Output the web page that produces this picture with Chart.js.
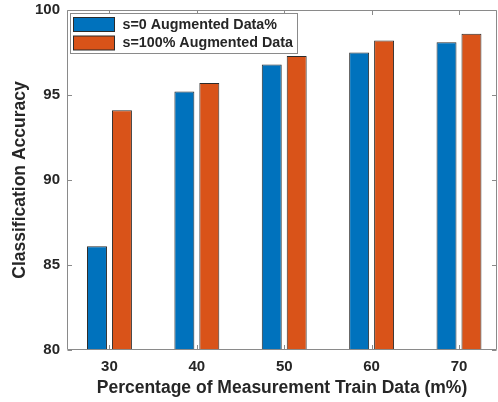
<!DOCTYPE html>
<html lang="en">
<head>
<meta charset="UTF-8">
<title>Classification Accuracy</title>
<script src="https://cdn.jsdelivr.net/npm/chart.js"></script>
<style>
  html, body { margin: 0; padding: 0; background: #fff; }
  #wrap { width: 498px; height: 402px; }
</style>
</head>
<body>
<div id="wrap"><canvas id="accChart" width="498" height="402"></canvas></div>
<script>
  // values
  const trainPct = [30, 40, 50, 60, 70];
  const accNoAug = [86.1, 95.2, 96.8, 97.5, 98.1];
  const accFullAug = [94.1, 95.7, 97.3, 98.2, 98.6];
  const yTicks = [80, 85, 90, 95, 100];
  const seriesNames = ['s=0 Augmented Data%', 's=100% Augmented Data'];
  const seriesColors = ['#0072BD', '#D95319'];

  const FONT = "'Liberation Sans', Arial, sans-serif";
  const TEXT = '#262626';
  const AXIS = '#8a8a8a';

  // MATLAB style box with inward ticks
  const boxPlugin = {
    id: 'box',
    afterDatasetsDraw(chart) {
      const { ctx, chartArea: a, scales: { x, y } } = chart;
      ctx.save();
      ctx.strokeStyle = AXIS;
      ctx.lineWidth = 1;
      ctx.beginPath();
      const L = Math.round(a.left) + 0.5, R = Math.round(a.right) - 0.5;
      const T = Math.round(a.top) + 0.5, B = Math.round(a.bottom) - 0.5;
      ctx.rect(L, T, R - L, B - T);
      const tk = 4.5;
      trainPct.forEach(v => {
        const px = Math.round(x.getPixelForValue(v)) + 0.5;
        ctx.moveTo(px, B); ctx.lineTo(px, B - tk);
        ctx.moveTo(px, T); ctx.lineTo(px, T + tk);
      });
      yTicks.forEach(v => {
        const py = Math.round(y.getPixelForValue(v)) + 0.5;
        ctx.moveTo(L, py); ctx.lineTo(L + tk, py);
        ctx.moveTo(R, py); ctx.lineTo(R - tk, py);
      });
      ctx.stroke();
      ctx.restore();
    }
  };

  const legendPlugin = {
    id: 'boxLegend',
    afterDraw(chart) {
      const { ctx, chartArea: a } = chart;
      const bx = Math.round(a.left) + 3.5, by = Math.round(a.top) + 3.5;
      ctx.save();
      ctx.fillStyle = '#fff';
      ctx.fillRect(bx, by, 227, 40);
      ctx.strokeStyle = AXIS;
      ctx.lineWidth = 1;
      ctx.strokeRect(bx, by, 227, 40);
      ctx.font = 'bold 14.3px ' + FONT;
      ctx.textBaseline = 'middle';
      chart.data.datasets.forEach((ds, i) => {
        const sy = by + 4 + i * 18.5;
        ctx.fillStyle = ds.backgroundColor;
        ctx.fillRect(bx + 3, sy, 41, 14);
        ctx.strokeStyle = '#2b2b2b';
        ctx.strokeRect(bx + 3, sy, 41, 14);
        ctx.fillStyle = TEXT;
        ctx.fillText(ds.label, bx + 52, sy + 7.5);
      });
      ctx.restore();
    }
  };

  new Chart(document.getElementById('accChart'), {
    type: 'bar',
    data: {
      datasets: [
        { label: seriesNames[0], data: trainPct.map((v, i) => ({ x: v, y: accNoAug[i] })),
          backgroundColor: seriesColors[0], borderColor: '#2b2b2b', borderWidth: 1 },
        { label: seriesNames[1], data: trainPct.map((v, i) => ({ x: v, y: accFullAug[i] })),
          backgroundColor: seriesColors[1], borderColor: '#2b2b2b', borderWidth: 1 }
      ]
    },
    options: {
      responsive: false,
      animation: false,
      devicePixelRatio: 1,
      categoryPercentage: 0.571,
      barPercentage: 0.8,
      layout: { padding: { left: 0, right: 1, top: 10, bottom: 0 } },
      plugins: { legend: { display: false }, tooltip: { enabled: false } },
      scales: {
        x: {
          type: 'linear',
          offset: false,
          min: 25.14,
          max: 74.35,
          afterBuildTicks: s => { s.ticks = trainPct.map(v => ({ value: v })); },
          afterFit: s => { s.height = 52; s.paddingLeft = 0; s.paddingRight = 0; },
          grid: { display: false, drawTicks: false, offset: false },
          border: { display: false },
          ticks: { padding: 8, color: TEXT, font: { family: FONT, size: 15, weight: 'bold' } },
          title: { display: true, text: 'Percentage of Measurement Train Data (m%)', color: TEXT,
            padding: { top: 0, bottom: 3.5 }, font: { family: FONT, size: 17.5, weight: 'bold' } }
        },
        y: {
          min: 80,
          max: 100,
          afterBuildTicks: s => { s.ticks = yTicks.map(v => ({ value: v })); },
          afterFit: s => { s.width = 67; s.paddingTop = 0; s.paddingBottom = 0; },
          grid: { display: false, drawTicks: false },
          border: { display: false },
          ticks: { padding: 7, color: TEXT, font: { family: FONT, size: 15, weight: 'bold' } },
          title: { display: true, text: 'Classification Accuracy', color: TEXT,
            padding: { top: 10, bottom: 0 }, font: { family: FONT, size: 17.5, weight: 'bold' } }
        }
      }
    },
    plugins: [boxPlugin, legendPlugin]
  });
</script>
</body>
</html>
